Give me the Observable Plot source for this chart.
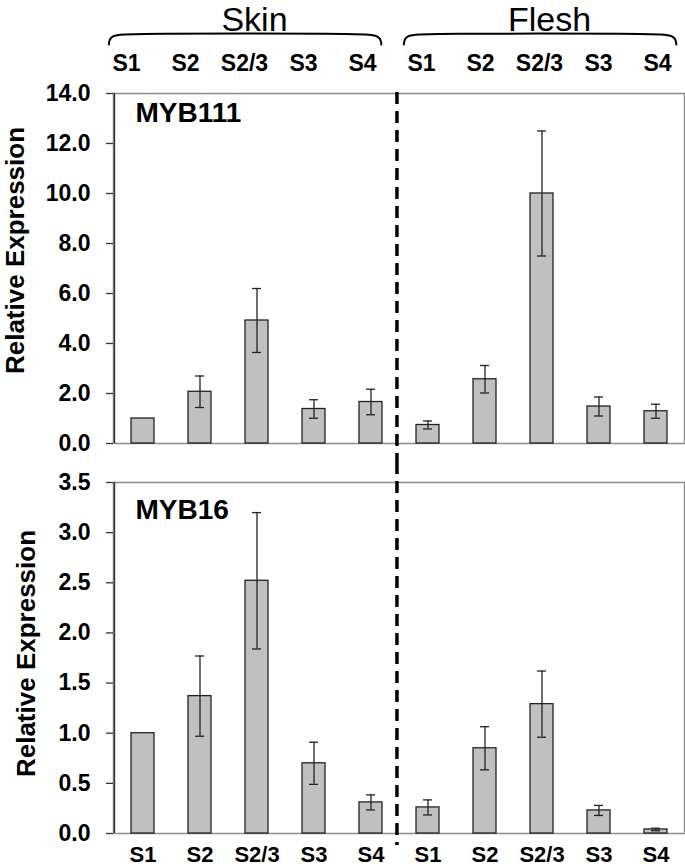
<!DOCTYPE html>
<html><head><meta charset="utf-8">
<script src="https://cdn.jsdelivr.net/npm/d3@7"></script>
<script src="https://cdn.jsdelivr.net/npm/@observablehq/plot@0.6"></script>
<style>
body{margin:0;background:#fff;}
#chart svg{display:block;}
</style></head><body><div id="chart"></div>
<script>
const groups = ["Skin", "Flesh"];
const stages = ["S1", "S2", "S2/3", "S3", "S4"];
const myb111Mean = [1.00, 2.07, 4.92, 1.38, 1.66, 0.74, 2.57, 10.00, 1.48, 1.29];
const myb111Err  = [0, 0.63, 1.28, 0.37, 0.51, 0.16, 0.55, 2.50, 0.38, 0.28];
const myb16Mean  = [1.00, 1.37, 2.52, 0.70, 0.31, 0.26, 0.85, 1.29, 0.23, 0.04];
const myb16Err   = [0, 0.40, 0.68, 0.21, 0.075, 0.075, 0.215, 0.33, 0.05, 0.012];
const myb111Ticks = [0, 2, 4, 6, 8, 10, 12, 14];
const myb16Ticks  = [0, 0.5, 1, 1.5, 2, 2.5, 3, 3.5];
const yLabel = "Relative Expression";

const FONT = "'Liberation Sans', Arial, Helvetica, sans-serif";
const W = 685;
const keys = groups.flatMap(g => stages.map(s => g + "|" + s));
const stageOf = k => k.split("|")[1];
const chart = document.getElementById("chart");

// Header: group braces and stage labels
{
  const cats = keys.map((k, i) => ({key: k, stage: stageOf(k), i}));
  const braces = groups.flatMap((g, gi) => {
    const s = gi * stages.length, e = s + stages.length;
    return [[s + 0.2, 0], [s + 0.22, 0.85], [s + 0.55, 1], [e - 0.55, 1], [e - 0.2, 0.85], [e - 0.18, 0]]
      .map(([x, y]) => ({g, x, y}));
  });
  const titles = groups.map((g, gi) => ({g, x: gi * stages.length + stages.length / 2}));
  chart.append(Plot.plot({
    width: W, height: 80, margin: 0,
    style: {fontFamily: FONT, background: "white", color: "black", overflow: "visible"},
    x: {type: "linear", domain: [0, 10], range: [96.5, 686.5], axis: null},
    y: {domain: [0, 1], range: [44, 33], axis: null},
    marks: [
      Plot.line(braces, {x: "x", y: "y", z: "g", curve: "basis", stroke: "black", strokeWidth: 2}),
      Plot.text(titles, {x: "x", text: "g", frameAnchor: "top", textAnchor: "middle", dy: 19.5, dx: 10, fontSize: 34, lineAnchor: "middle"}),
      Plot.text(cats, {x: d => d.i + 0.5, text: "stage", frameAnchor: "top", textAnchor: "middle", dy: 63, fontSize: 23, fontWeight: "bold", lineAnchor: "middle"})
    ]
  }));
}

function panel({mean, err, ticks, name, height, marginTop, marginBottom, labelDx, labelDy, nameDy, dashTop, dashBottom, xLabels}) {
  const rows = keys.map((k, i) => ({key: k, stage: stageOf(k), value: mean[i], err: err[i]}));
  const withErr = rows.filter(d => d.err > 0);
  const marginLeft = 113, marginRight = 1;
  const step = (W - marginLeft - marginRight) / keys.length;
  const ymax = ticks[ticks.length - 1];
  const marks = [
    Plot.frame({stroke: "#8c8c8c", strokeWidth: 1.5}),
    Plot.barY(rows, {x: "key", y: "value", fill: "#c0c0c0", stroke: "#222", strokeWidth: 1.3, insetLeft: 17, insetRight: 17}),
    Plot.ruleX(withErr, {x: "key", y1: d => d.value - d.err, y2: d => d.value + d.err, stroke: "#222", strokeWidth: 1.3}),
    Plot.tickY(withErr, {x: "key", y: d => d.value + d.err, insetLeft: 24, insetRight: 24, stroke: "#222", strokeWidth: 1.3}),
    Plot.tickY(withErr, {x: "key", y: d => d.value - d.err, insetLeft: 24, insetRight: 24, stroke: "#222", strokeWidth: 1.3}),
    Plot.ruleX([keys[0]], {dx: -step / 2, stroke: "#333", strokeWidth: 1.5}),
    Plot.axisY({ticks, tickFormat: d => d.toFixed(1), tickSize: 7, tickPadding: 16, fontSize: 23, label: null, stroke: "#333", strokeWidth: 1.3}),
    Plot.text([name], {text: d => d, frameAnchor: "top-left", dx: 22, dy: nameDy, fontSize: 28, textAnchor: "start", lineAnchor: "bottom"}),
    Plot.text([yLabel], {text: d => d, frameAnchor: "left", textAnchor: "middle", rotate: -90, dx: labelDx, dy: labelDy, fontSize: 26, lineAnchor: "middle"}),
    Plot.ruleX([keys[stages.length]], {dx: -step / 2 - 2.5, insetTop: dashTop, insetBottom: dashBottom, stroke: "black", strokeWidth: 3.5, strokeDasharray: "12,7"})
  ];
  if (xLabels) marks.push(Plot.text(rows, {x: "key", text: "stage", frameAnchor: "bottom", textAnchor: "middle", dy: 21, fontSize: 22, lineAnchor: "middle"}));
  return Plot.plot({
    width: W, height, marginLeft, marginRight, marginTop, marginBottom,
    style: {fontFamily: FONT, fontWeight: "bold", background: "white", color: "black", overflow: "visible"},
    x: {domain: keys, padding: 0, axis: null},
    y: {domain: [0, ymax], axis: null},
    marks
  });
}

chart.append(panel({mean: myb111Mean, err: myb111Err, ticks: myb111Ticks, name: "MYB111",
  height: 382, marginTop: 13, marginBottom: 19, labelDx: -97.5, labelDy: -18, nameDy: 28,
  dashTop: -1, dashBottom: -19, xLabels: false}));
chart.append(panel({mean: myb16Mean, err: myb16Err, ticks: myb16Ticks, name: "MYB16",
  height: 404, marginTop: 20, marginBottom: 33, labelDx: -87, labelDy: -4.5, nameDy: 36,
  dashTop: -20, dashBottom: -12, xLabels: true}));
</script></body></html>
